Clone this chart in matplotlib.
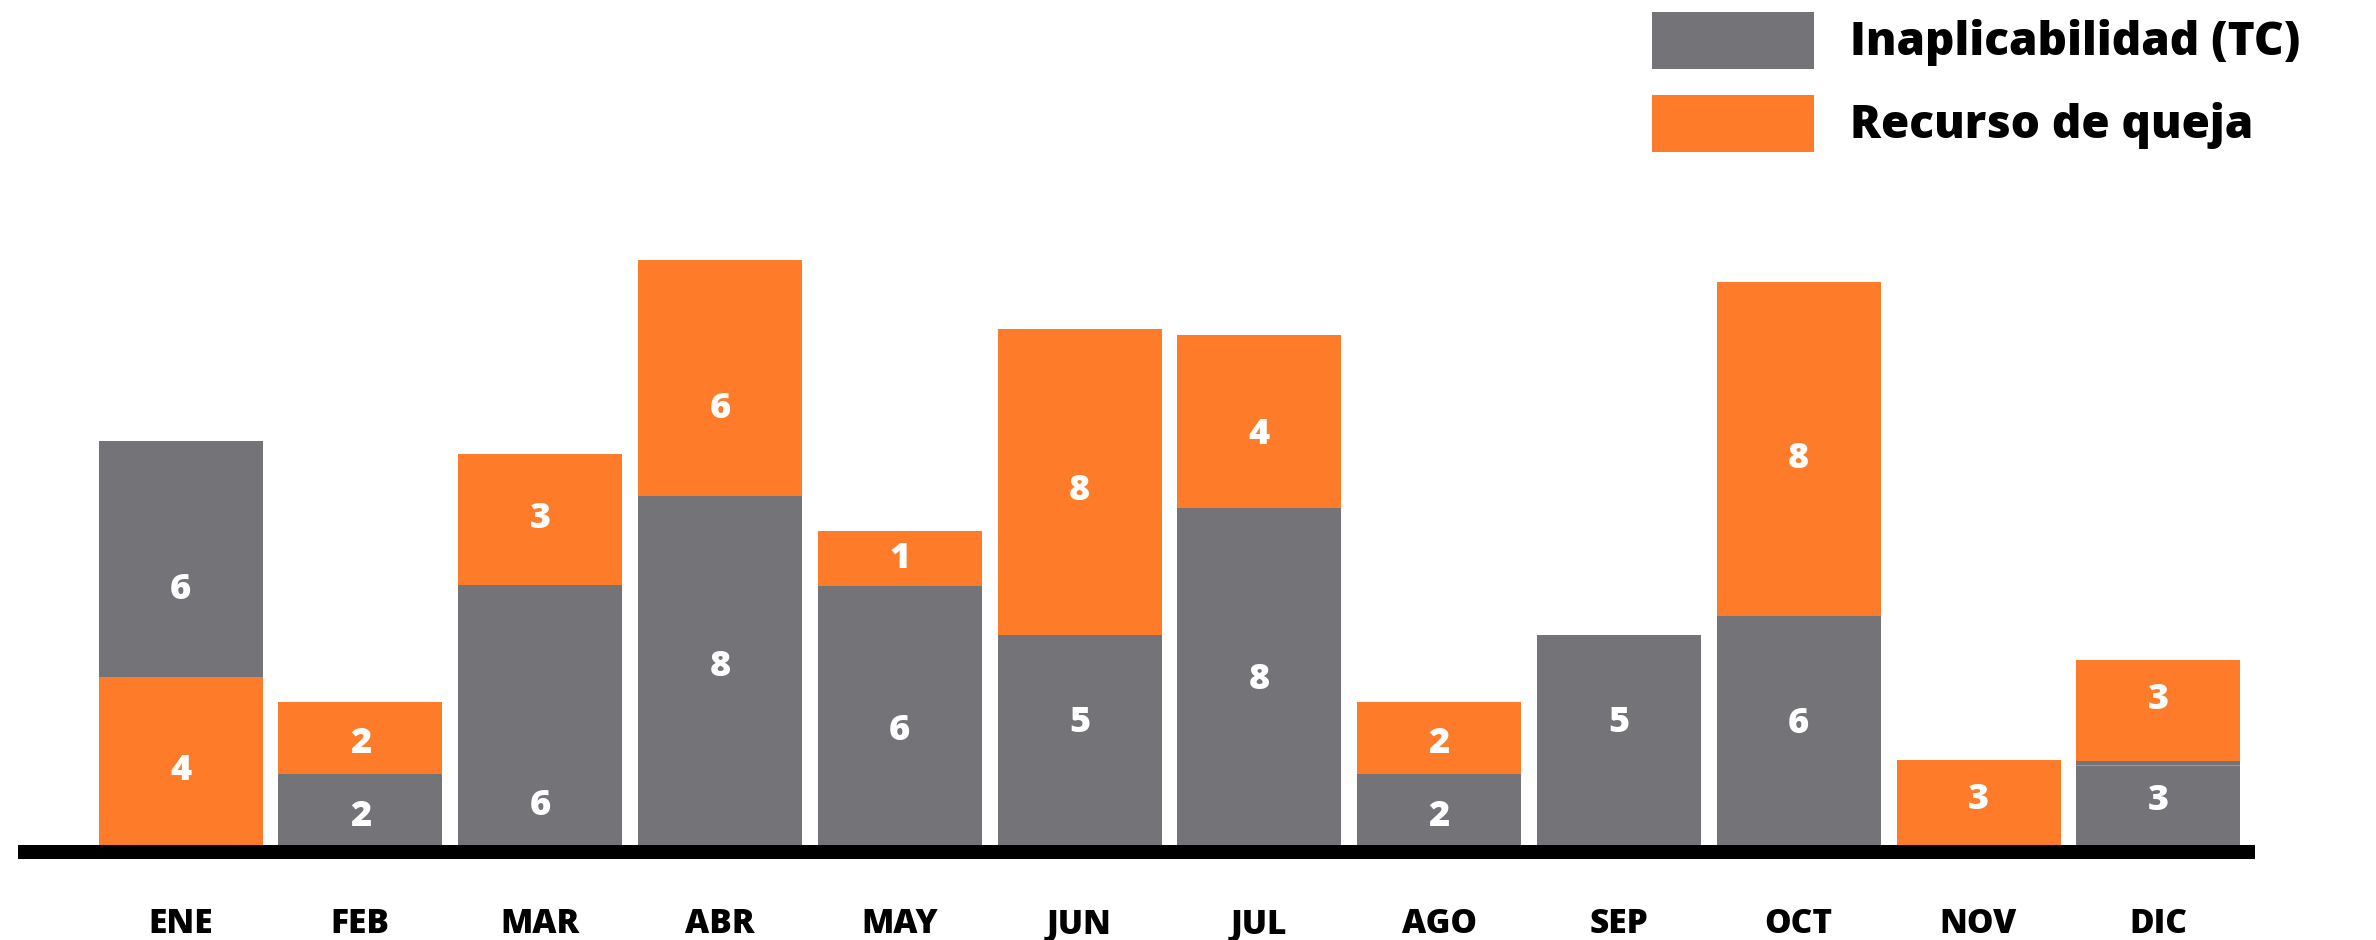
import numpy as np
import matplotlib
matplotlib.use("Agg")
import matplotlib.pyplot as plt
from matplotlib.patches import Rectangle

# datos (alturas, 1 unidad ~ 40 px)
meses = ['ENE', 'FEB', 'MAR', 'ABR', 'MAY', 'JUN', 'JUL', 'AGO', 'SEP', 'OCT', 'NOV', 'DIC']
inap = [5.9, 1.78, 6.5, 8.72, 6.48, 5.25, 8.42, 1.78, 5.25, 5.72, 0, 1.98]
queja = [4.2, 1.8, 3.28, 5.9, 1.38, 7.65, 4.33, 1.8, 0, 8.35, 2.12, 2.52]
# pequeñas franjas que aparecen en DIC
franja_q = [0, 0, 0, 0, 0, 0, 0, 0, 0, 0, 0, 0.03]
franja_i = [0, 0, 0, 0, 0, 0, 0, 0, 0, 0, 0, 0.1]
# en ENE el recurso de queja va abajo
queja_abajo = [True] + [False] * 11

# etiquetas que se muestran dentro de cada tramo
etq_inap = ['6', '2', '6', '8', '6', '5', '8', '2', '5', '6', '', '3']
etq_queja = ['4', '2', '3', '6', '1', '8', '4', '2', '', '8', '3', '3']

# posicion vertical de la etiqueta dentro del tramo (fraccion)
pos_inap = [0.37, 0.39, 0.15, 0.51, 0.44, 0.58, 0.49, 0.39, 0.58, 0.53, 0.5, 0.56]
pos_queja = [0.44, 0.42, 0.50, 0.37, 0.49, 0.47, 0.42, 0.42, 0.5, 0.47, 0.53, 0.60]

series = ['Inaplicabilidad (TC)', 'Recurso de queja']

GRIS = '#747378'
NARANJA = '#FE7C29'
FUENTE = 'Open Sans'
PESO = 'extra bold'

W, H = 2376, 940
X0, PASO = 180.5, 179.8   # centro de la primera barra y separacion, en px

fig = plt.figure(figsize=(W / 100, H / 100), dpi=100)
# ejes: la linea base va de 18 a 2255 px (el extremo de la linea sobresale 7 px)
ax = fig.add_axes([25 / W, 88 / H, (2248 - 25) / W, 852 / H])

ancho = 164 / PASO
x = np.arange(len(meses))

for i in range(len(meses)):
    if queja_abajo[i]:
        tramos = [(queja[i], NARANJA, etq_queja[i], pos_queja[i]),
                  (inap[i], GRIS, etq_inap[i], pos_inap[i])]
    else:
        tramos = [(inap[i], GRIS, etq_inap[i], pos_inap[i]),
                  (franja_q[i], NARANJA, '', 0.5),
                  (franja_i[i], GRIS, '', 0.5),
                  (queja[i], NARANJA, etq_queja[i], pos_queja[i])]
    base = 0
    for h, col, etq, pos in tramos:
        if h <= 0:
            continue
        ax.bar(x[i], h, bottom=base, width=ancho, color=col, linewidth=0)
        if etq:
            ax.text(x[i], base + h * pos, etq, ha='center', va='center',
                    color='white', fontsize=26, fontweight=PESO, family=FUENTE)
        base += h

# nombres de los meses
for i, m in enumerate(meses):
    ax.text(x[i], -2.2, m, ha='center', va='baseline', fontsize=24,
            fontweight=PESO, family=FUENTE, clip_on=False)

ax.set_xlim((25 - X0) / PASO, (2248 - X0) / PASO)
ax.set_ylim(-0.175, 21.125)
ax.set_xticks([])
ax.set_yticks([])
for s in ['top', 'left', 'right']:
    ax.spines[s].set_visible(False)
ax.spines['bottom'].set_linewidth(14 * 72 / 100)
ax.spines['bottom'].set_color('black')
ax.spines['bottom'].set_zorder(3)
ax.patch.set_alpha(0)

# leyenda dibujada a mano en coordenadas de figura
for k, (nombre, col) in enumerate(zip(series, [GRIS, NARANJA])):
    top = 12 + 83 * k
    fig.add_artist(Rectangle((1652 / W, 1 - (top + 57) / H), 162 / W, 57 / H,
                             transform=fig.transFigure, color=col, linewidth=0))
    fig.text(1850 / W, 1 - (top + 43) / H, nombre, ha='left', va='baseline',
             fontsize=33, fontweight=PESO, family=FUENTE)

fig.savefig('out.png', dpi=100)
